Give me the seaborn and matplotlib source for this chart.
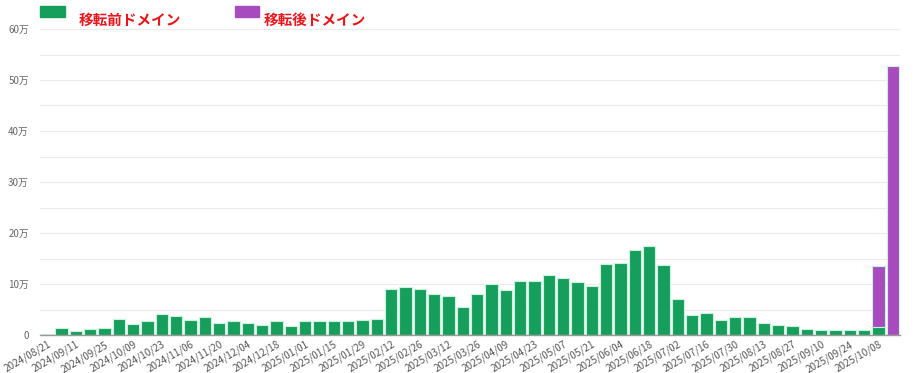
import matplotlib
matplotlib.use("Agg")
import matplotlib.pyplot as plt
import seaborn as sns
import pandas as pd
import numpy as np

weeks = [
    "2024/08/21", "2024/09/04", "2024/09/11", "2024/09/18", "2024/09/25", "2024/10/02",
    "2024/10/09", "2024/10/16", "2024/10/23", "2024/10/30", "2024/11/06", "2024/11/13",
    "2024/11/20", "2024/11/27", "2024/12/04", "2024/12/11", "2024/12/18", "2024/12/25",
    "2025/01/01", "2025/01/08", "2025/01/15", "2025/01/22", "2025/01/29", "2025/02/05",
    "2025/02/12", "2025/02/19", "2025/02/26", "2025/03/05", "2025/03/12", "2025/03/19",
    "2025/03/26", "2025/04/02", "2025/04/09", "2025/04/16", "2025/04/23", "2025/04/30",
    "2025/05/07", "2025/05/14", "2025/05/21", "2025/05/28", "2025/06/04", "2025/06/11",
    "2025/06/18", "2025/06/25", "2025/07/02", "2025/07/09", "2025/07/16", "2025/07/23",
    "2025/07/30", "2025/08/06", "2025/08/13", "2025/08/20", "2025/08/27", "2025/09/03",
    "2025/09/10", "2025/09/17", "2025/09/24", "2025/10/01", "2025/10/08", "2025/10/15",
]

# values in 万 (10,000)
old_domain = [0.2, 1.4, 0.85, 1.1, 1.4, 3.1, 2.2, 2.8, 4.2, 3.7,
              2.9, 3.5, 2.4, 2.8, 2.3, 2.0, 2.8, 1.8, 2.8, 2.8,
              2.7, 2.7, 3.0, 3.1, 9.1, 9.4, 9.0, 8.1, 7.6, 5.4,
              8.1, 10.0, 8.9, 10.6, 10.5, 11.8, 11.2, 10.3, 9.7, 13.9,
              14.1, 16.6, 17.5, 13.7, 7.0, 3.9, 4.4, 2.9, 3.6, 3.6,
              2.3, 2.0, 1.7, 1.2, 0.9, 1.0, 1.0, 0.9, 1.5, 0.0]
new_domain = [0.0] * 58 + [12.1, 52.8]

yticks = [0, 10, 20, 30, 40, 50, 60]
ytick_labels = ["0", "10万", "20万", "30万", "40万", "50万", "60万"]

label_old = "移転前ドメイン"
label_new = "移転後ドメイン"

GREEN = "#169f5c"
PURPLE = "#a84bbf"
EDGE = "#c9f3dc"

sns.set_theme(style="white")
plt.rcParams["font.family"] = ["Noto Sans CJK JP", "DejaVu Sans"]

df = pd.DataFrame({
    "week": weeks,
    "old": np.array(old_domain) * 10000,
    "new": np.array(new_domain) * 10000,
})
df["total"] = df["old"] + df["new"]

fig = plt.figure(figsize=(9.18, 3.73), dpi=100)
ax = fig.add_axes([40 / 918, 1 - 335 / 373, 860 / 918, 306 / 373])

sns.barplot(data=df, x="week", y="total", order=weeks, color=PURPLE,
            width=0.86, edgecolor=EDGE, linewidth=0.8, saturation=1, ax=ax)
sns.barplot(data=df, x="week", y="old", order=weeks, color=GREEN,
            width=0.86, edgecolor=EDGE, linewidth=0.8, saturation=1, ax=ax)

ax.set_xlim(-0.5, len(weeks) - 0.5)
ax.set_ylim(0, 600000)
ax.set_xlabel("")
ax.set_ylabel("")

# gridlines every 5万
for v in range(50000, 600001, 50000):
    ax.axhline(v, color="#ebebeb", linewidth=0.8, zorder=0)
ax.set_axisbelow(True)

ax.set_yticks([t * 10000 for t in yticks])
ax.set_yticklabels(ytick_labels, fontsize=7, color="#666666")
ax.tick_params(axis="y", length=0, pad=8)

xt = list(range(0, len(weeks), 2))
ax.set_xticks(xt)
ax.set_xticklabels([weeks[i] for i in xt], rotation=30, ha="right",
                   rotation_mode="anchor", fontsize=7.2, color="#555555")
ax.tick_params(axis="x", length=0, pad=3)

for s in ["top", "right", "left"]:
    ax.spines[s].set_visible(False)
ax.spines["bottom"].set_color("#999999")
ax.spines["bottom"].set_linewidth(1.0)

# legend
from matplotlib.patches import Rectangle
fig.patches.append(Rectangle((40 / 918, 1 - 17 / 373), 25 / 918, 11 / 373,
                             transform=fig.transFigure, color=GREEN))
fig.patches.append(Rectangle((235 / 918, 1 - 17 / 373), 24 / 918, 11 / 373,
                             transform=fig.transFigure, color=PURPLE))
fig.text(79 / 918, 1 - 20 / 373, label_old, color="#e8141a", fontsize=10.5,
         fontweight="bold", va="center", ha="left")
fig.text(264 / 918, 1 - 20 / 373, label_new, color="#e8141a", fontsize=10.5,
         fontweight="bold", va="center", ha="left")

fig.savefig("out.png", dpi=100, facecolor="white")
